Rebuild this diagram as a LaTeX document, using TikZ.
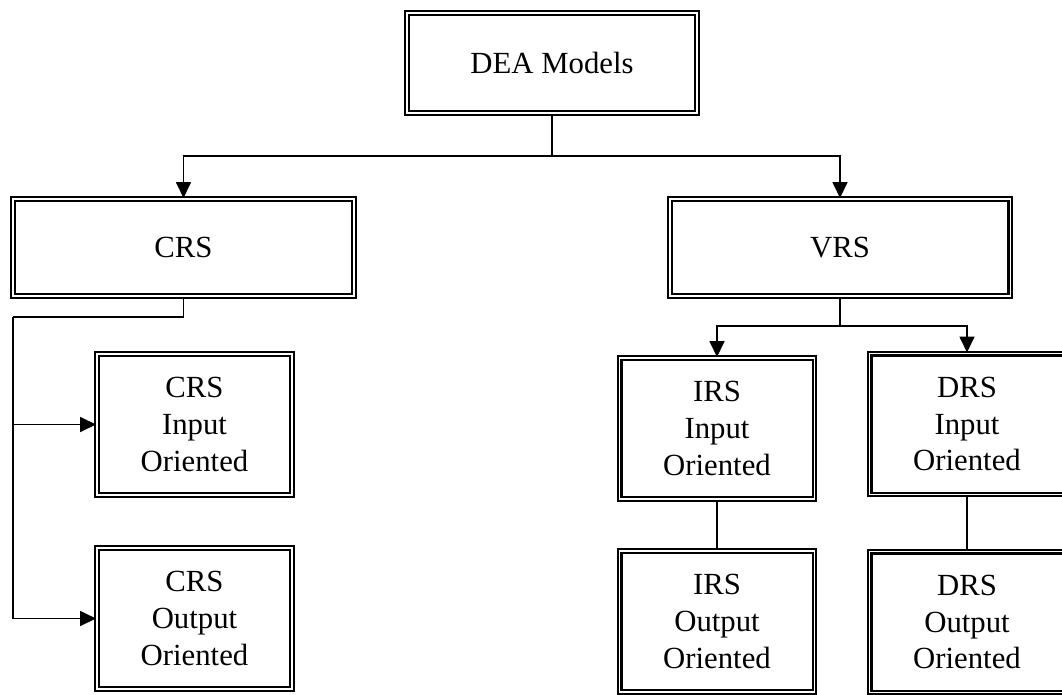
\documentclass[tikz,border=0pt]{standalone}
\usepackage{fontspec}
\setmainfont{Liberation Serif}
\usetikzlibrary{arrows.meta}

\begin{document}
\begin{tikzpicture}
        [
            x=0.02cm, y=-0.02cm,
            model/.style={draw, line width=1.15pt, double, double distance=1.1pt,
                align=center, inner sep=0pt,
                font=\fontsize{17.5}{21}\selectfont},
            wide/.style={model, minimum width=6.82cm, minimum height=1.94cm},
            small/.style={model, minimum width=3.9cm, minimum height=2.82cm},
            link/.style={line width=1pt},
            arr/.style={link, -{Triangle[length=0.32cm, width=0.3cm]}},
        ]
        \useasboundingbox (0,0) rectangle (1062,694);
        % top level
        \node[model, minimum width=5.8cm, minimum height=2cm] (dea) at (552,63) {DEA Models};
        \node[wide] (crs) at (183.5,247.5) {CRS};
        \node[wide] (vrs) at (840,247.5) {VRS};
        % crs branch
        \node[small] (crsin) at (194.5,424.5) {CRS\\Input\\Oriented};
        \node[small] (crsout) at (194.5,618.5) {CRS\\Output\\Oriented};
        % vrs branch
        \node[small] (irsin) at (717,428.5) {IRS\\Input\\Oriented};
        \node[small] (drsin) at (967,424) {DRS\\Input\\Oriented};
        \node[small] (irsout) at (717,621.5) {IRS\\Output\\Oriented};
        \node[small] (drsout) at (967,622) {DRS\\Output\\Oriented};

        \coordinate (topsplit) at (552,156);
        \coordinate (crsbend) at (13,317);
        \coordinate (vrssplit) at (840,326);

        \draw[link] (dea) -- (topsplit);
        \draw[arr] (topsplit) -| (crs);
        \draw[arr] (topsplit) -| (vrs);

        \draw[link] (crs.south) |- (crsbend);
        \draw[arr] (crsbend) |- (crsin);
        \draw[arr] (crsbend) |- (crsout);

        \draw[link] (vrs) -- (vrssplit);
        \draw[arr] (vrssplit) -| (irsin);
        \draw[arr] (vrssplit) -| (drsin);
        \draw[link] (irsin) -- (irsout);
        \draw[link] (drsin) -- (drsout);
    \end{tikzpicture}
\end{document}
